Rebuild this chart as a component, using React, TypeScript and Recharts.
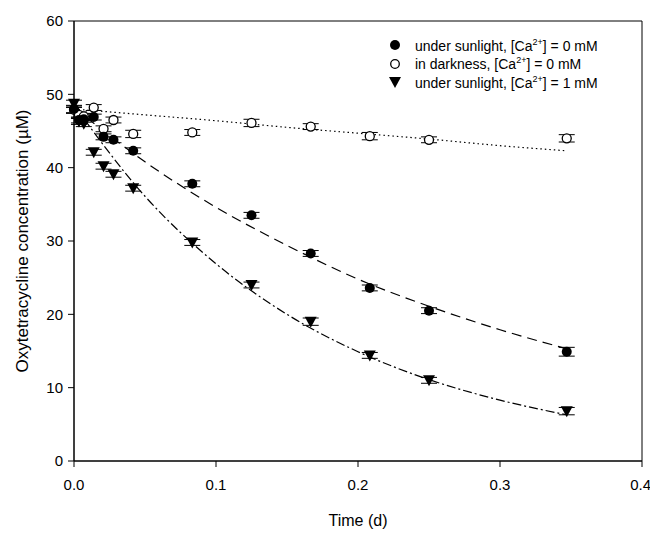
import React from 'react';
import {
  ComposedChart, Line, Scatter, XAxis, YAxis, ErrorBar, ReferenceArea,
} from 'recharts';

const FONT = '"Liberation Sans", Arial, sans-serif';

// sampling times (d)
const times = [0, 0.0035, 0.0069, 0.0139, 0.0208, 0.0278, 0.0417, 0.0833, 0.125, 0.1667, 0.2083, 0.25, 0.347];
const sunlight0 = [48.0, 46.5, 46.6, 46.9, 44.2, 43.8, 42.3, 37.8, 33.5, 28.3, 23.6, 20.5, 14.9];
const dark0 = [47.9, 47.2, 47.0, 48.2, 45.3, 46.5, 44.6, 44.8, 46.1, 45.6, 44.3, 43.8, 44.0];
const sunlight1 = [48.7, 46.3, 46.0, 42.1, 40.2, 39.1, 37.2, 29.8, 24.0, 19.0, 14.4, 11.0, 6.8];
const errSun0 = [0.5, 0.4, 0.4, 0.4, 0.4, 0.4, 0.4, 0.4, 0.4, 0.4, 0.4, 0.4, 0.6];
const errDark = [0.5, 0.4, 0.4, 0.4, 0.4, 0.4, 0.5, 0.4, 0.5, 0.4, 0.5, 0.4, 0.5];
const errSun1 = [0.5, 0.4, 0.4, 0.4, 0.4, 0.4, 0.4, 0.4, 0.4, 0.5, 0.4, 0.4, 0.5];

// fitted curves
const fitT = [0, 0.05, 0.1, 0.15, 0.2, 0.25, 0.3, 0.347];
const fitSun0 = [48.2, 40.8, 34.6, 29.4, 24.8, 21.1, 17.9, 15.3];
const fitSun1 = [48.5, 36.1, 26.9, 20.0, 14.9, 11.1, 8.3, 6.3];
const fitDark = [48.0, 47.2, 46.4, 45.5, 44.7, 43.9, 43.0, 42.3];

const xTicks = [0, 0.1, 0.2, 0.3, 0.4];
const yTicks = [0, 10, 20, 30, 40, 50, 60];

const pts = (ys: number[], es: number[]) => times.map((t, i) => ({ t, y: ys[i], e: es[i] }));
const fit = (ys: number[]) => fitT.map((t, i) => ({ t, y: ys[i] }));

const FilledCircle = (p: any) => <circle cx={p.cx} cy={p.cy} r={5} fill="#000" />;
const OpenCircle = (p: any) => <circle cx={p.cx} cy={p.cy} r={4.5} fill="#fff" stroke="#000" strokeWidth={1.3} />;
const DownTri = (p: any) => (
  <path d={`M${p.cx - 6},${p.cy - 5} L${p.cx + 6},${p.cy - 5} L${p.cx},${p.cy + 6} Z`} fill="#000" />
);

const legendRows = [
  { sym: 'filled', pre: 'under sunlight, [Ca', post: '] = 0 mM' },
  { sym: 'open', pre: 'in darkness, [Ca', post: '] = 0 mM' },
  { sym: 'tri', pre: 'under sunlight, [Ca', post: '] = 1 mM' },
];

const LegendBox = () => (
  <div style={{ position: 'absolute', left: 387, top: 36, fontFamily: FONT, fontSize: 14, color: '#000' }}>
    {legendRows.map((r) => (
      <div key={r.sym + r.post} style={{ display: 'flex', alignItems: 'center', height: 18.5 }}>
        <svg width={16} height={14}>
          {r.sym === 'filled' && <circle cx={8} cy={7} r={5} fill="#000" />}
          {r.sym === 'open' && <circle cx={8} cy={7} r={4.3} fill="#fff" stroke="#000" strokeWidth={1.3} />}
          {r.sym === 'tri' && <path d="M2,2 L14,2 L8,13 Z" fill="#000" />}
        </svg>
        <span style={{ marginLeft: 12, whiteSpace: 'nowrap' }}>
          {r.pre}<sup style={{ fontSize: 9 }}>2+</sup>{r.post}
        </span>
      </div>
    ))}
  </div>
);

export default function App() {
  return (
    <div style={{ position: 'absolute', left: 0, top: 0, width: 650, height: 533, background: '#fff' }}>
      <ComposedChart width={650} height={533} margin={{ top: 21, right: 8, bottom: 0, left: 0 }}>
        <XAxis
          dataKey="t"
          type="number"
          domain={[0, 0.4]}
          ticks={xTicks}
          tickFormatter={(v: number) => v.toFixed(1)}
          height={72}
          tickSize={6}
          tickMargin={12}
          stroke="#000"
          tick={{ fill: '#000', fontSize: 15, fontFamily: FONT }}
          allowDuplicatedCategory={false}
          label={(props: any) => {
            const vb = props.viewBox;
            return (
              <text x={vb.x + vb.width / 2} y={526} textAnchor="middle" fontSize={16} fontFamily={FONT} fill="#000">
                Time (d)
              </text>
            );
          }}
        />
        <YAxis
          type="number"
          domain={[0, 60]}
          ticks={yTicks}
          width={74}
          tickSize={6}
          tickMargin={5}
          stroke="#000"
          tick={{ fill: '#000', fontSize: 15, fontFamily: FONT }}
          label={(props: any) => {
            const vb = props.viewBox;
            const cy = vb.y + vb.height / 2;
            return (
              <text x={22} y={cy} transform={`rotate(-90 22 ${cy})`} textAnchor="middle" dominantBaseline="central" fontSize={17} fontFamily={FONT} fill="#000">
                Oxytetracycline concentration (µM)
              </text>
            );
          }}
        />
        <ReferenceArea x1={0} x2={0.4} y1={0} y2={60} fill="none" stroke="#000" strokeWidth={1} ifOverflow="visible" />
        <Line data={fit(fitDark)} dataKey="y" type="monotone" stroke="#000" strokeWidth={1.2} strokeDasharray="1.5 3" dot={false} isAnimationActive={false} />
        <Line data={fit(fitSun0)} dataKey="y" type="monotone" stroke="#000" strokeWidth={1.2} strokeDasharray="10 6" dot={false} isAnimationActive={false} />
        <Line data={fit(fitSun1)} dataKey="y" type="monotone" stroke="#000" strokeWidth={1.2} strokeDasharray="9 3 2 3" dot={false} isAnimationActive={false} />
        <Scatter data={pts(dark0, errDark)} dataKey="y" shape={OpenCircle} isAnimationActive={false}>
          <ErrorBar dataKey="e" direction="y" width={8} stroke="#000" strokeWidth={1} />
        </Scatter>
        <Scatter data={pts(sunlight0, errSun0)} dataKey="y" shape={FilledCircle} isAnimationActive={false}>
          <ErrorBar dataKey="e" direction="y" width={8} stroke="#000" strokeWidth={1} />
        </Scatter>
        <Scatter data={pts(sunlight1, errSun1)} dataKey="y" shape={DownTri} isAnimationActive={false}>
          <ErrorBar dataKey="e" direction="y" width={8} stroke="#000" strokeWidth={1} />
        </Scatter>
      </ComposedChart>
      <LegendBox />
    </div>
  );
}
